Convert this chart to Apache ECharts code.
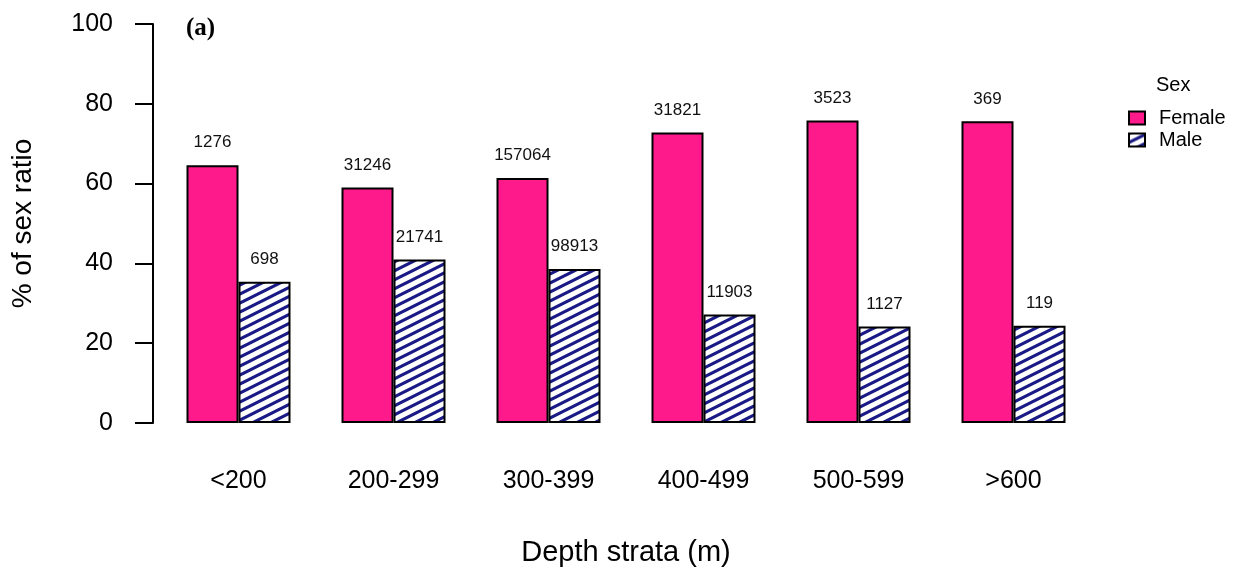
<!DOCTYPE html>
<html>
<head>
<meta charset="utf-8">
<title>Sex ratio by depth strata</title>
<script src="https://cdn.jsdelivr.net/npm/echarts@6/dist/echarts.min.js"></script>
<style>
  html, body { margin: 0; padding: 0; background: #fff; }
  #chart { width: 1243px; height: 572px; }
</style>
</head>
<body>
<div id="chart"></div>
<script>
// Depth strata and percentage of each sex, with the sample counts printed above the bars
const categories = ['<200', '200-299', '300-399', '400-499', '500-599', '>600'];
const femalePct = [64.6, 59.0, 61.4, 72.8, 75.8, 75.6];
const malePct = [35.4, 41.0, 38.6, 27.2, 24.2, 24.4];
const femaleCounts = ['1276', '31246', '157064', '31821', '3523', '369'];
const maleCounts = ['698', '21741', '98913', '11903', '1127', '119'];
const yTicks = [0, 20, 40, 60, 80, 100];

const FONT = '"Liberation Sans", Arial, sans-serif';

// Diagonal navy hatching for the male bars
function makeHatch() {
  const w = 18, h = 9;
  const c = document.createElement('canvas');
  c.width = w; c.height = h;
  const ctx = c.getContext('2d');
  ctx.fillStyle = '#ffffff';
  ctx.fillRect(0, 0, w, h);
  ctx.strokeStyle = '#1a1a86';
  ctx.lineWidth = 3.1;
  for (const dy of [-h, 0, h]) {
    ctx.beginPath();
    ctx.moveTo(-2, h + dy + 1);
    ctx.lineTo(w + 2, dy - 1);
    ctx.stroke();
  }
  return c;
}
const hatch = makeHatch();

const chart = echarts.init(document.getElementById('chart'), null, { renderer: 'canvas' });

const labelStyle = (counts) => ({
  show: true,
  position: 'top',
  distance: 14,
  fontFamily: FONT,
  fontSize: 17,
  color: '#111',
  formatter: (p) => counts[p.dataIndex]
});

chart.setOption({
  animation: false,
  backgroundColor: '#ffffff',
  title: [
    {
      text: '(a)', left: 181, top: 11,
      textStyle: { fontFamily: '"Liberation Serif", "Times New Roman", serif', fontWeight: 'bold', fontSize: 25, color: '#000' }
    },
    {
      text: 'Sex', left: 1151, top: 70,
      textStyle: { fontFamily: FONT, fontWeight: 'normal', fontSize: 20, color: '#000' }
    }
  ],
  legend: {
    orient: 'vertical',
    left: 1123,
    top: 103,
    itemWidth: 16,
    itemHeight: 13,
    itemGap: 2,
    icon: 'rect',
    textStyle: { fontFamily: FONT, fontSize: 20, color: '#000', padding: [0, 0, 0, 9] },
    data: ['Female', 'Male']
  },
  grid: { left: 161, right: 152, top: 24, bottom: 148, containLabel: false },
  xAxis: {
    type: 'category',
    data: categories,
    axisLine: { show: false },
    axisTick: { show: false },
    axisLabel: { fontFamily: FONT, fontSize: 25, color: '#000', margin: 46 },
    name: 'Depth strata (m)',
    nameLocation: 'middle',
    nameGap: 115,
    nameTextStyle: { fontFamily: FONT, fontSize: 29, color: '#000' }
  },
  yAxis: {
    type: 'value',
    min: yTicks[0],
    max: yTicks[yTicks.length - 1],
    interval: 20,
    offset: 8,
    splitLine: { show: false },
    axisLine: { show: true, lineStyle: { color: '#000', width: 2 } },
    axisTick: { show: true, length: 18, lineStyle: { color: '#000', width: 2 } },
    axisLabel: { fontFamily: FONT, fontSize: 25, color: '#000', margin: 40 },
    name: '% of sex ratio',
    nameLocation: 'middle',
    nameGap: 116,
    nameTextStyle: { fontFamily: FONT, fontSize: 28, color: '#000' }
  },
  series: [
    {
      name: 'Female',
      type: 'bar',
      data: femalePct,
      barWidth: 52,
      barGap: '0%',
      itemStyle: { color: '#ff1a8c', borderColor: '#000', borderWidth: 2 },
      label: labelStyle(femaleCounts)
    },
    {
      name: 'Male',
      type: 'bar',
      data: malePct,
      barWidth: 52,
      barGap: '0%',
      itemStyle: { color: { image: hatch, repeat: 'repeat' }, borderColor: '#000', borderWidth: 2 },
      label: labelStyle(maleCounts)
    }
  ]
});
</script>
</body>
</html>
